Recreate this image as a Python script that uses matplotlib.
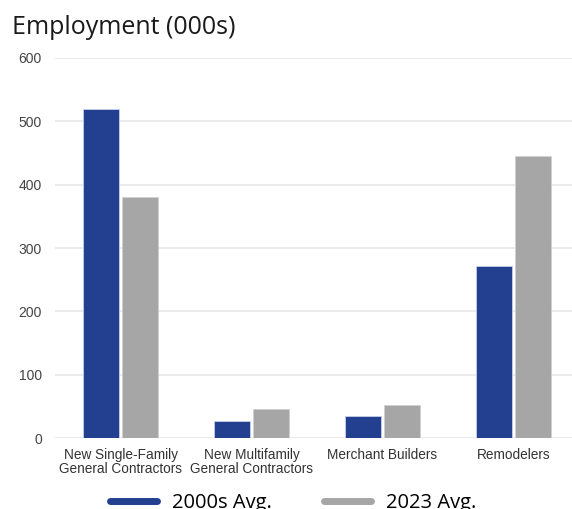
import matplotlib
matplotlib.use("Agg")
import matplotlib.pyplot as plt
import numpy as np
from matplotlib.lines import Line2D

categories = ["New Single-Family\nGeneral Contractors", "New Multifamily\nGeneral Contractors",
              "Merchant Builders", "Remodelers"]
avg_2000s = [520, 27, 35, 272]
avg_2023 = [381, 46, 52, 445]
series_labels = ["2000s Avg.", "2023 Avg."]

blue = "#22408f"
gray = "#a6a6a6"

fig = plt.figure(figsize=(5.72, 5.09), dpi=100)
ax = fig.add_axes([55 / 572, 1 - 438 / 509, 524 / 572, 380 / 509])

x = np.arange(len(categories))
w = 0.275
ax.bar(x - w / 2 - 0.012, avg_2000s, width=w, color=blue, edgecolor="#c8d0e8", linewidth=0.6, zorder=3)
ax.bar(x + w / 2 + 0.012, avg_2023, width=w, color=gray, edgecolor="#d0d0d0", linewidth=0.6, zorder=3)

ax.set_xlim(-0.5, 3.5)
ax.set_ylim(0, 600)
ax.set_yticks(range(0, 601, 100))
ax.yaxis.grid(True, color="#e6e6e6", linewidth=1.2, zorder=0)
for s in ax.spines.values():
    s.set_visible(False)
ax.tick_params(axis="both", length=0, colors="#333333", labelsize=9.8)
ax.tick_params(axis="y", pad=9.5, labelsize=10, labelcolor="#444444")
ax.tick_params(axis="x", pad=7)
ax.set_xticks(x)
ax.set_xticklabels(categories, fontfamily="Liberation Sans", linespacing=1.05)
for lbl in ax.get_yticklabels():
    lbl.set_fontfamily("Liberation Sans")

fig.text(12 / 572, 1 - 27 / 509, "Employment (000s)", fontsize=18, fontfamily="Open Sans",
         va="center", ha="left", color="#1a1a1a")

handles = [Line2D([], [], color=blue, linewidth=5, solid_capstyle="round"),
           Line2D([], [], color=gray, linewidth=5, solid_capstyle="round")]
fig.legend(handles, series_labels, loc="center", bbox_to_anchor=(293 / 572, 1 - 503 / 509),
           ncol=2, frameon=False, handlelength=2.33, columnspacing=2.6,
           prop={"family": "Open Sans", "size": 14.5}, handletextpad=0.75,
           borderpad=0, borderaxespad=0)

fig.savefig("out.png", dpi=100)
